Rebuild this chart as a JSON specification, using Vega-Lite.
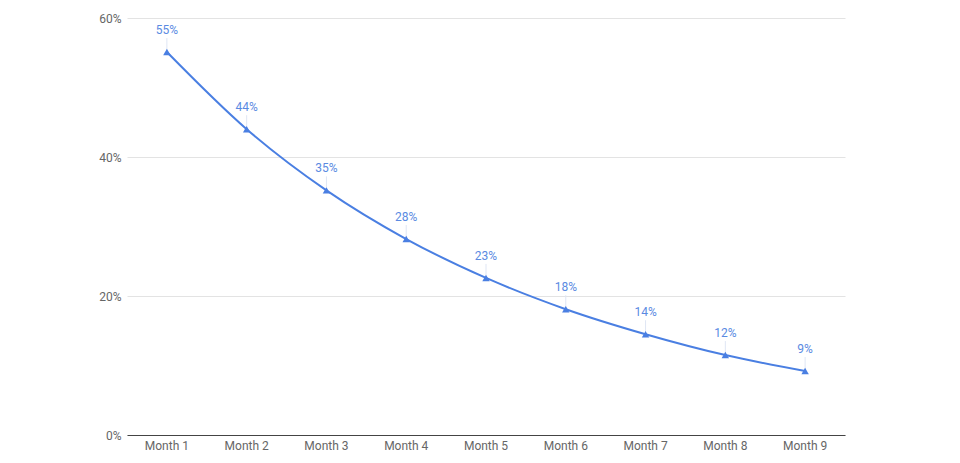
{
  "$schema": "https://vega.github.io/schema/vega-lite/v6.json",
  "width": 718,
  "height": 417,
  "autosize": {"type": "none"},
  "padding": {"left": 127, "top": 18, "right": 115, "bottom": 28},
  "background": "white",
  "config": {
    "view": {"stroke": null},
    "font": "Roboto"
  },
  "data": {
    "values": [
      {"month": "Month 1", "value": 0.551, "label": "55%"},
      {"month": "Month 2", "value": 0.440, "label": "44%"},
      {"month": "Month 3", "value": 0.352, "label": "35%"},
      {"month": "Month 4", "value": 0.282, "label": "28%"},
      {"month": "Month 5", "value": 0.226, "label": "23%"},
      {"month": "Month 6", "value": 0.181, "label": "18%"},
      {"month": "Month 7", "value": 0.145, "label": "14%"},
      {"month": "Month 8", "value": 0.115, "label": "12%"},
      {"month": "Month 9", "value": 0.092, "label": "9%"}
    ]
  },
  "encoding": {
    "x": {
      "field": "month",
      "type": "ordinal",
      "sort": null,
      "scale": {"paddingInner": 0, "paddingOuter": 0},
      "axis": {
        "title": null,
        "labelAngle": 0,
        "labelColor": "#666666",
        "labelFontSize": 12,
        "labelPadding": 5,
        "ticks": false,
        "tickSize": 0,
        "domainColor": "#444444",
        "domainWidth": 1,
        "grid": false
      }
    },
    "y": {
      "field": "value",
      "type": "quantitative",
      "scale": {"domain": [0, 0.6], "nice": false},
      "axis": {
        "title": null,
        "format": ".0%",
        "values": [0, 0.2, 0.4, 0.6],
        "labelColor": "#666666",
        "labelFontSize": 12,
        "labelPadding": 6,
        "ticks": false,
        "tickSize": 0,
        "domain": false,
        "gridColor": "#e3e3e3",
        "gridWidth": 1
      }
    }
  },
  "layer": [
    {
      "mark": {"type": "rule", "color": "#dfe6f4", "strokeWidth": 1, "y2Offset": -14},
      "encoding": {"y2": {"field": "value"}}
    },
    {
      "mark": {"type": "line", "interpolate": "monotone", "color": "#4a7fe2", "strokeWidth": 2}
    },
    {
      "mark": {"type": "point", "shape": "triangle-up", "filled": true, "size": 55, "color": "#4a7fe2", "opacity": 1}
    },
    {
      "mark": {"type": "text", "dy": -22, "fontSize": 12, "color": "#5a8ae2"},
      "encoding": {"text": {"field": "label"}}
    }
  ]
}
